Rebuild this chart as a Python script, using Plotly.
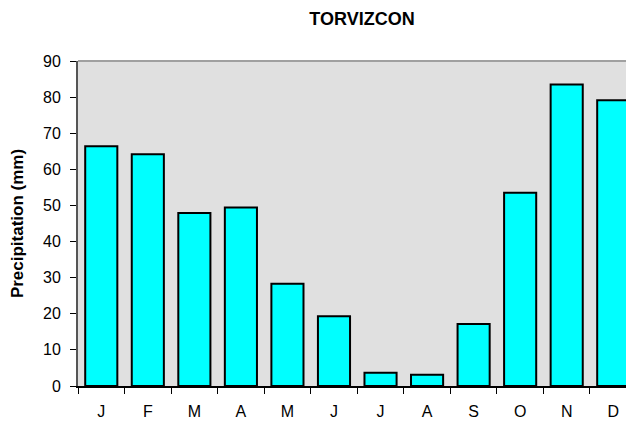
import plotly.graph_objects as go

months = ["J", "F", "M", "A", "M", "J", "J", "A", "S", "O", "N", "D"]
precip = [66.4, 64.2, 47.9, 49.4, 28.3, 19.3, 3.7, 3.1, 17.2, 53.5, 83.5, 79.1]
y_ticks = [0, 10, 20, 30, 40, 50, 60, 70, 80, 90]
title_text = "TORVIZCON"
y_title = "Precipitation (mm)"

cat_keys = [str(i) for i in range(len(months))]

# the page body adds an 8px margin, so the figure is sized to fit the window
W, H = 626, 413

fig = go.Figure()
fig.add_trace(go.Bar(
    x=cat_keys, y=precip, width=0.69,
    marker=dict(color="#00FFFF", line=dict(color="black", width=2)),
))

fig.update_layout(
    width=W, height=H,
    margin=dict(l=70, r=0, t=53, b=35, autoexpand=False),
    paper_bgcolor="white", plot_bgcolor="#E0E0E0",
    font=dict(family="Liberation Sans, Arial", size=16, color="black"),
    showlegend=False,
    title=dict(text="<b>" + title_text + "</b>", x=354 / W, xref="container", xanchor="center",
               y=1 - 11 / H, yref="container", yanchor="middle", font=dict(size=18)),
    xaxis=dict(
        type="category", tickmode="array", tickvals=cat_keys, ticktext=months,
        tickson="boundaries", ticks="outside", ticklen=6, tickwidth=1, tickcolor="black",
        range=[-0.5, 11.446], showgrid=False, zeroline=False,
        showline=True, linecolor="black", linewidth=1.5,
        ticklabelstandoff=10, automargin=False,
    ),
    yaxis=dict(
        range=[0, 90], tickvals=y_ticks, showgrid=False, zeroline=False,
        showline=True, linecolor="#555555", linewidth=2,
        ticks="outside", ticklen=6, tickwidth=1, tickcolor="black",
        ticklabelstandoff=6, automargin=False,
        title=dict(text="<b>" + y_title + "</b>", font=dict(size=17), standoff=15),
    ),
)

# top border of the plot area
fig.add_shape(type="line", xref="paper", yref="paper", x0=0, x1=1, y0=1, y1=1,
              line=dict(color="#A0A0A0", width=2))

fig.write_html("out.html")
